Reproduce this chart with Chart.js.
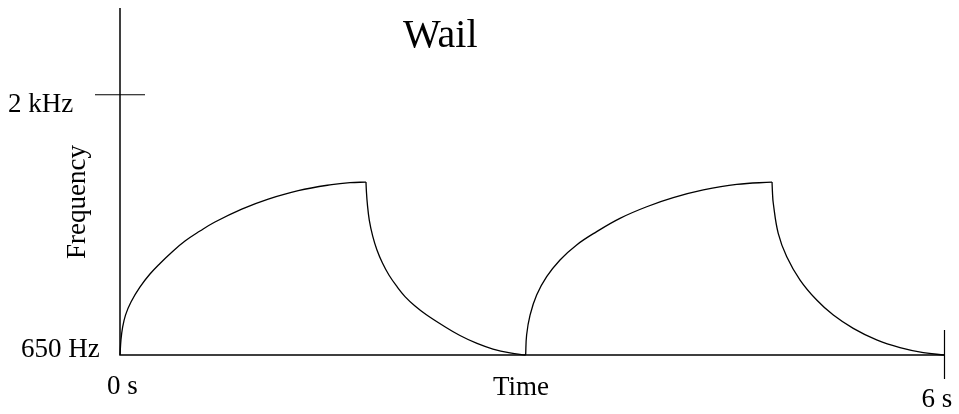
<!DOCTYPE html>
<html lang="en">
<head>
  <meta charset="UTF-8">
  <title>Wail</title>
  <script src="https://cdn.jsdelivr.net/npm/chart.js"></script>
  <style>
    body {
      margin: 0;
      background: #fff;
    }
    #wrap {
      width: 959px;
      height: 414px;
    }
  </style>
</head>
<body>
  <div id="wrap"><canvas id="wailChart" width="959" height="414"></canvas></div>

  <script>
    const rise1Time = [0.000, 0.007, 0.018, 0.040, 0.080, 0.146, 0.218, 0.291, 0.375, 0.473, 0.582, 0.691, 0.886, 1.079, 1.297, 1.541, 1.674, 1.790];
    const rise1Freq = [650, 728, 790, 857, 925, 1003, 1070, 1125, 1182, 1241, 1293, 1340, 1407, 1459, 1503, 1534, 1544, 1547];

    const fall1Time = [1.790, 1.793, 1.800, 1.814, 1.839, 1.870, 1.910, 1.957, 2.012, 2.074, 2.147, 2.227, 2.350, 2.474, 2.598, 2.714, 2.838, 2.952];
    const fall1Freq = [1547, 1501, 1434, 1350, 1267, 1195, 1127, 1065, 1008, 953, 904, 860, 803, 751, 710, 681, 661, 650];

    const rise2Time = [2.952, 2.959, 2.984, 3.032, 3.105, 3.202, 3.323, 3.469, 3.638, 3.833, 4.026, 4.245, 4.488, 4.745];
    const rise2Freq = [650, 754, 857, 961, 1056, 1143, 1221, 1290, 1359, 1419, 1466, 1506, 1535, 1547];

    const fall2Time = [4.745, 4.748, 4.754, 4.790, 4.852, 4.949, 5.070, 5.191, 5.336, 5.506, 5.676, 5.846, 6.000];
    const fall2Freq = [1547, 1495, 1437, 1281, 1160, 1039, 935, 857, 788, 728, 688, 662, 650];

    // axis labels
    const yTickValues = [650, 2000];
    const yTickLabels = ['650 Hz', '2 kHz'];
    const xTickValues = [0, 6];
    const xTickLabels = ['0 s', '6 s'];

    const serif = '"Liberation Serif", "Times New Roman", serif';

    // axes, ticks and labels drawn by hand (the picture has no grid)
    const axesPlugin = {
      id: 'handAxes',
      afterDatasetsDraw(chart) {
        const ctx = chart.ctx;
        const xs = chart.scales.x, ys = chart.scales.y;
        const area = chart.chartArea;
        const x0 = xs.getPixelForValue(xTickValues[0]);
        const x6 = xs.getPixelForValue(xTickValues[1]);
        const y0 = ys.getPixelForValue(yTickValues[0]);
        const y2k = ys.getPixelForValue(yTickValues[1]);

        ctx.save();
        ctx.strokeStyle = '#000';
        ctx.lineWidth = 1.5;
        ctx.beginPath();
        ctx.moveTo(x0, area.top);
        ctx.lineTo(x0, y0);
        ctx.lineTo(x6, y0);
        ctx.stroke();

        // tick at 2 kHz and at 6 s
        ctx.lineWidth = 1.2;
        ctx.beginPath();
        ctx.moveTo(x0 - 25, y2k);
        ctx.lineTo(x0 + 25, y2k);
        ctx.moveTo(x6, y0 - 25);
        ctx.lineTo(x6, y0 + 24);
        ctx.stroke();

        ctx.fillStyle = '#000';
        ctx.textBaseline = 'alphabetic';
        ctx.font = '27px ' + serif;
        ctx.textAlign = 'left';
        ctx.fillText(yTickLabels[1], 8, y2k + 17);
        ctx.fillText(yTickLabels[0], 21, y0 + 2);
        ctx.fillText(xTickLabels[0], x0 - 13, y0 + 39);
        ctx.fillText(xTickLabels[1], x6 - 23, y0 + 52);
        ctx.fillText('Time', 493, y0 + 40);

        ctx.font = '40px ' + serif;
        ctx.fillText('Wail', 403, 47);

        ctx.font = '27px ' + serif;
        ctx.translate(85, 202);
        ctx.rotate(-Math.PI / 2);
        ctx.textAlign = 'center';
        ctx.fillText('Frequency', 0, 0);
        ctx.restore();
      }
    };

    function arc(ts, fs) {
      return {
        data: ts.map((t, i) => ({ x: t, y: fs[i] })),
        borderColor: '#000',
        borderWidth: 1.3,
        pointRadius: 0,
        fill: false,
        tension: 0.4,
        clip: false
      };
    }

    new Chart(document.getElementById('wailChart'), {
      type: 'line',
      data: {
        datasets: [
          arc(rise1Time, rise1Freq),
          arc(fall1Time, fall1Freq),
          arc(rise2Time, rise2Freq),
          arc(fall2Time, fall2Freq)
        ]
      },
      options: {
        responsive: false,
        animation: false,
        layout: {
          padding: { left: 120, right: 14.5, top: 8, bottom: 59 }
        },
        scales: {
          x: { type: 'linear', min: 0, max: 6, display: false },
          y: { type: 'linear', min: 650, max: 2450, display: false }
        },
        plugins: {
          legend: { display: false },
          tooltip: { enabled: false }
        }
      },
      plugins: [axesPlugin]
    });
  </script>
</body>
</html>
